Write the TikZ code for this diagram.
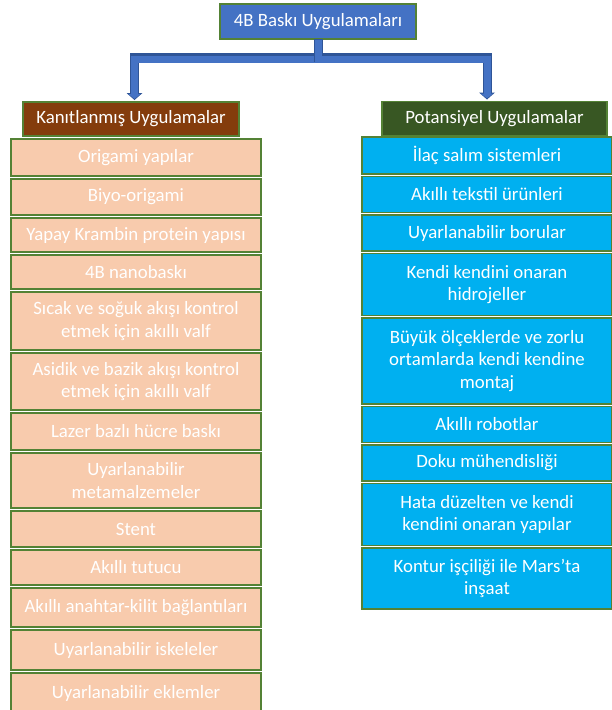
\documentclass[tikz,border=0pt]{standalone}
\usepackage{fontspec}
\setmainfont{Carlito}
\usepackage{xcolor}
\usetikzlibrary{arrows.meta, positioning}
\definecolor{peach}{HTML}{F8CBAD}
\definecolor{skyblue}{HTML}{00B0F0}
\definecolor{edgegreen}{HTML}{548235}
\definecolor{rootblue}{HTML}{4472C4}
\definecolor{arrowedge}{HTML}{2F5597}
\definecolor{provenbrown}{HTML}{843C0C}
\definecolor{potgreen}{HTML}{385723}
\tikzstyle{headbox}=[rectangle, draw=edgegreen, line width=1.5pt, outer sep=0pt, text=white, minimum height=34pt, font=\fontsize{18.8}{22.5}\selectfont]
\tikzstyle{leftbox}=[rectangle, draw=edgegreen, line width=1.8pt, outer sep=0pt, inner sep=2pt, fill=peach, text=white, minimum width=250pt, minimum height=36pt, align=center, font=\fontsize{18.8}{22.5}\selectfont]
\tikzstyle{rightbox}=[leftbox, fill=skyblue]

\begin{document}
\begin{tikzpicture}[x=1pt, y=-1pt]
\useasboundingbox (0,0) rectangle (612,710);

% Top and headers
\node[headbox, fill=rootblue, minimum width=196pt, minimum height=35pt] (root) at (318,21.5) {4B Baskı Uygulamaları};
\node[headbox, fill=provenbrown, minimum width=216pt] (proven) at (131,119) {Kanıtlanmış Uygulamalar};
\node[headbox, fill=potgreen, minimum width=225pt] (potential) at (494.5,118.5) {Potansiyel Uygulamalar};

% Proven applications
\node[leftbox, minimum height=37pt] (p1) at (136,157.5) {Origami yapılar};
\node[leftbox, below=3pt of p1] (p2) {Biyo-origami};
\node[leftbox, minimum height=34pt, below=3pt of p2] (p3) {Yapay Krambin protein yapısı};
\node[leftbox, minimum height=34pt, below=3pt of p3] (p4) {4B nanobaskı};
\node[leftbox, minimum height=58pt, below=3pt of p4] (p5) {Sıcak ve soğuk akışı kontrol\\etmek için akıllı valf};
\node[leftbox, minimum height=57pt, below=3pt of p5] (p6) {Asidik ve bazik akışı kontrol\\etmek için akıllı valf};
\node[leftbox, minimum height=37pt, below=3pt of p6] (p7) {Lazer bazlı hücre baskı};
\node[leftbox, minimum height=55pt, below=3pt of p7] (p8) {Uyarlanabilir\\metamalzemeler};
\node[leftbox, below=3pt of p8] (p9) {Stent};
\node[leftbox, minimum height=35pt, below=3pt of p9] (p10) {Akıllı tutucu};
\node[leftbox, minimum height=39pt, below=3pt of p10] (p11) {Akıllı anahtar-kilit bağlantıları};
\node[leftbox, minimum height=40pt, below=3pt of p11] (p12) {Uyarlanabilir iskeleler};
\node[leftbox, minimum height=40pt, below=3pt of p12] (p13) {Uyarlanabilir eklemler};

% Potential applications
\node[rightbox, minimum height=37pt] (q1) at (487,155.5) {İlaç salım sistemleri};
\node[rightbox, below=2.5pt of q1] (q2) {Akıllı tekstil ürünleri};
\node[rightbox, below=2.5pt of q2] (q3) {Uyarlanabilir borular};
\node[rightbox, minimum height=62pt, below=2.5pt of q3] (q4) {Kendi kendini onaran\\hidrojeller};
\node[rightbox, minimum height=86pt, below=2.5pt of q4] (q5) {Büyük ölçeklerde ve zorlu\\ortamlarda kendi kendine\\montaj};
\node[rightbox, below=2.5pt of q5] (q6) {Akıllı robotlar};
\node[rightbox, below=2.5pt of q6] (q7) {Doku mühendisliği};
\node[rightbox, minimum height=62pt, below=2.5pt of q7] (q8) {Hata düzelten ve kendi\\kendini onaran yapılar};
\node[rightbox, minimum height=61pt, below=2.5pt of q8] (q9) {Kontur işçiliği ile Mars’ta\\inşaat};

% Block arrows
\foreach \target/\dx in {proven/3.5, potential/-7.5}{
  \draw[line width=9pt, draw=arrowedge, -{Triangle[width=16pt, length=7pt, line width=0pt]}]
    (root.south) -- ++(0,18) -| ([xshift=\dx pt, yshift=2pt]\target.north);
  \draw[line width=7pt, draw=rootblue, shorten >=1.2pt, -{Triangle[width=12.5pt, length=4.8pt, line width=0pt]}]
    ([yshift=-1pt]root.south) -- ++(0,19) -| ([xshift=\dx pt, yshift=2pt]\target.north);
}
\end{tikzpicture}
\end{document}
